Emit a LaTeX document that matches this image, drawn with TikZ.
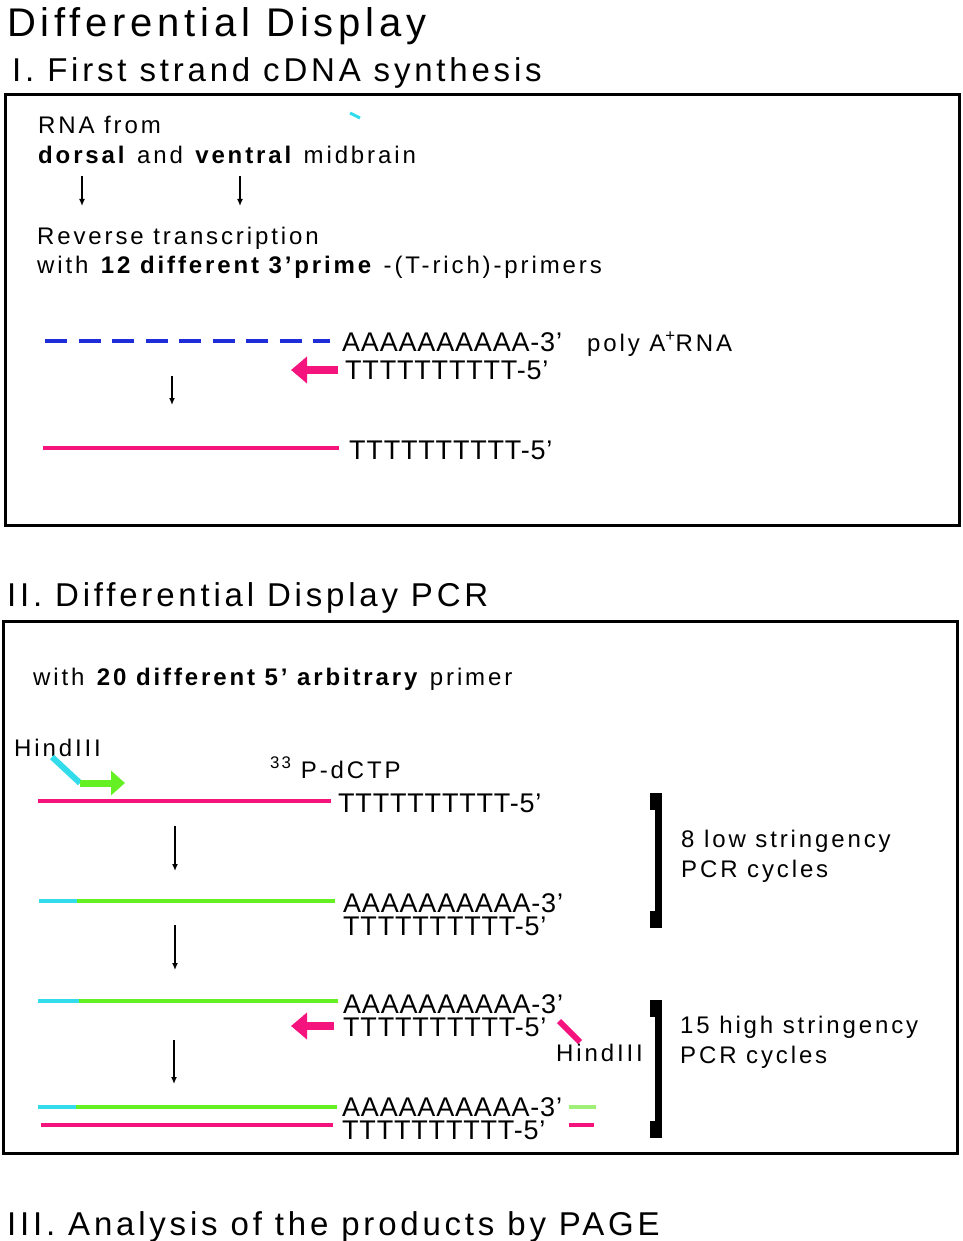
\documentclass[tikz,border=0pt]{standalone}
\usepackage{fontspec}
\setmainfont{Liberation Sans}
\newfontfamily\spacedfont{Liberation Sans}[LetterSpace=12]
\newfontfamily\headfont{Liberation Sans}[LetterSpace=11.5]
\newfontfamily\seqfont{Liberation Sans}[LetterSpace=3]
\usetikzlibrary{arrows.meta}
\definecolor{rnablue}{RGB}{30,45,215}
\definecolor{dnapink}{RGB}{245,20,125}
\definecolor{dnacyan}{RGB}{50,220,235}
\definecolor{dnagreen}{RGB}{100,240,35}
\definecolor{dnalight}{RGB}{160,240,120}
\begin{document}
\begin{tikzpicture}
    [x=1pt, y=-1pt,
    title/.style={anchor=base west, inner sep=0pt, font={\spacedfont\fontsize{40}{46}\selectfont}},
    heading/.style={anchor=base west, inner sep=0pt, font={\headfont\fontsize{33}{38}\selectfont}},
    txt/.style={anchor=base west, inner sep=0pt, font={\spacedfont\fontsize{24}{28}\selectfont}},
    seq/.style={anchor=base west, inner sep=0pt, font={\seqfont\fontsize{27}{30}\selectfont}},
    seqpair/.style={anchor=north west, inner sep=0pt, align=left,
      font={\seqfont\fontsize{27}{23}\selectfont}},
    frame/.style={draw, line width=3pt},
    strand/.style={line width=4pt},
    down/.style={line width=1.5pt, -{Latex[length=7pt,width=6pt]}},
    primer/.style={line width=8pt, -{Triangle[length=16pt,width=26pt]}}]
    \useasboundingbox (0,0) rectangle (962,1241);
    % headings
    \node[title] (title) at (7,37) {Differential Display};
    \node[heading] (part1) at (12,82) {I. First strand cDNA synthesis};
    \node[heading] (part2) at (7,606) {II. Differential Display PCR};
    \node[heading] (part3) at (7,1235) {III. Analysis of the products by PAGE};
    \draw[frame] (5,95) rectangle (959,525);
    \draw[frame] (3,621) rectangle (957,1153);
    % I. first strand
    \node[txt] (rna) at (38,134) {RNA from};
    \node[txt] (tissue) at (38,164) {\textbf{dorsal} and \textbf{ventral} midbrain};
    \draw[dnacyan, line width=3pt] (350,113) -- (360,118);
    \coordinate (dt) at (82,176);
    \coordinate (db) at (82,206);
    \coordinate (vt) at (240,176);
    \coordinate (vb) at (240,206);
    \draw[down] (dt) -- (db);
    \draw[down] (vt) -- (vb);
    \node[txt] (rt) at (37,244) {Reverse transcription};
    \node[txt] (rtprimer) at (37,273) {with \textbf{12 different 3’prime} -(T-rich)-primers};
    \draw[strand, rnablue, dash pattern=on 22pt off 11.5pt] (45,341) -- (330,341);
    \node[seq] (polya) at (342,351) {AAAAAAAAAA-3’};
    \node[txt] (polyrna) at (587,351) {poly A\textsuperscript{+}RNA};
    \node[seq] (oligot) at (345,379) {TTTTTTTTTT-5’};
    \coordinate (ot) at (338,370);
    \coordinate (oh) at (291,370);
    \draw[primer, dnapink] (ot) -- (oh);
    \coordinate (rtt) at (172,376);
    \coordinate (rtb) at (172,405);
    \draw[down] (rtt) -- (rtb);
    \draw[strand, dnapink] (43,448) -- (339,448);
    \node[seq] (cdna) at (349,459) {TTTTTTTTTT-5’};
    % II. PCR
    \node[txt] (arbitrary) at (33,685) {with \textbf{20 different 5’ arbitrary} primer};
    \node[txt] (hindfwd) at (14,756) {HindIII};
    \coordinate (hf) at (52,757);
    \coordinate (hk) at (80,783);
    \coordinate (ah) at (125,783);
    \draw[dnacyan, line width=6pt] (hf) -- (hk);
    \draw[dnagreen, line width=7pt, -{Triangle[length=14pt,width=24pt]}] (hk) -- (ah);
    \node[txt] (label) at (270,778) {\textsuperscript{33} P-dCTP};
    \draw[strand, dnapink] (38,801) -- (331,801);
    \node[seq] (t1) at (338,812) {TTTTTTTTTT-5’};
    \coordinate (s1t) at (175,826);
    \coordinate (s1b) at (175,871);
    \draw[down] (s1t) -- (s1b);
    \draw[strand, dnacyan] (39,901) -- (77,901);
    \draw[strand, dnagreen] (77,901) -- (335,901);
    \node[seqpair] (ds2) at (343,893) {AAAAAAAAAA-3’\\TTTTTTTTTT-5’};
    \coordinate (s2t) at (175,925);
    \coordinate (s2b) at (175,970);
    \draw[down] (s2t) -- (s2b);
    \draw[strand, dnacyan] (38,1001) -- (79,1001);
    \draw[strand, dnagreen] (79,1001) -- (338,1001);
    \node[seqpair] (ds3) at (343,994) {AAAAAAAAAA-3’\\TTTTTTTTTT-5’};
    \coordinate (rpt) at (334,1026);
    \coordinate (rph) at (291,1026);
    \draw[primer, dnapink] (rpt) -- (rph);
    \draw[dnapink, line width=6pt] (559,1021) -- (580,1042);
    \node[txt] (hindrev) at (556,1061) {HindIII};
    \coordinate (s3t) at (174,1040);
    \coordinate (s3b) at (174,1084);
    \draw[down] (s3t) -- (s3b);
    \draw[strand, dnacyan] (38,1107) -- (76,1107);
    \draw[strand, dnagreen] (76,1107) -- (337,1107);
    \node[seqpair] (ds4) at (342,1097) {AAAAAAAAAA-3’\\TTTTTTTTTT-5’};
    \draw[strand, dnalight] (569,1107) -- (596,1107);
    \draw[strand, dnapink] (41,1125) -- (333,1125);
    \draw[strand, dnapink] (569,1125) -- (594,1125);
    % cycle brackets
    \foreach \top/\bot in {793/928, 1000/1138} {
      \fill (655,\top) rectangle (662,\bot);
      \fill (650,\top) rectangle (662,\top+17);
      \fill (650,\bot-17) rectangle (662,\bot);
    }
    \node[txt] (low) at (681,847) {8 low stringency};
    \node[txt] (lowpcr) at (681,877) {PCR cycles};
    \node[txt] (high) at (680,1033) {15 high stringency};
    \node[txt] (highpcr) at (680,1063) {PCR cycles};
\end{tikzpicture}
\end{document}
